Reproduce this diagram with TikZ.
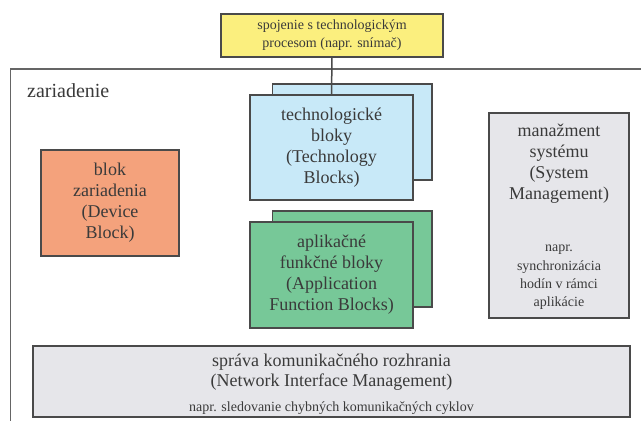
\documentclass[tikz,border=0pt]{standalone}
\usepackage{fontspec}
\setmainfont{Liberation Serif}
\newfontfamily\tnr{Liberation Serif}
\definecolor{boxline}{HTML}{4A4A4A}
\definecolor{txt}{HTML}{3A3A3A}
\definecolor{yel}{HTML}{FBEF7E}
\definecolor{blu}{HTML}{C8E9F8}
\definecolor{grn}{HTML}{77C898}
\definecolor{org}{HTML}{F4A27C}
\definecolor{gry}{HTML}{E6E6EA}
\tikzset{
  every node/.style={font=\tnr},
  blockbox/.style={draw=boxline, line width=1.5pt, rectangle, inner sep=0pt, align=center, text=txt},
  bigtext/.style={font=\tnr\fontsize{18}{21}\selectfont},
  smalltext/.style={font=\tnr\fontsize{14}{18.3}\selectfont, text=txt, align=center, inner sep=0pt},
  frameline/.style={draw=boxline!85, line width=1.3pt},
}
\begin{document}
\begin{tikzpicture}[x=1pt,y=1pt]
\useasboundingbox (0,0) rectangle (641,421);
% device frame (open to right and bottom)
\coordinate (frTR) at (641,352);
\coordinate (frTL) at (10.7,352);
\coordinate (frBL) at (10.7,0);
\draw[frameline] (frTR) -- (frTL) -- (frBL);
\node[anchor=base west, inner sep=0pt, text=txt, font=\tnr\fontsize{20}{24}\selectfont] (dev) at (27,323) {zariadenie};
% yellow
\node[blockbox, fill=yel, minimum width=222pt, minimum height=43pt, font=\tnr\fontsize{14}{18}\selectfont] (yel) at (332,385.5) {spojenie s technologickým\\procesom (napr. snímač)};
% blue stack
\node[blockbox, fill=blu, minimum width=159.3pt, minimum height=96pt] (tbback) at (352.35,289) {};
\node[blockbox, fill=blu, minimum width=163pt, minimum height=105pt, bigtext] (tb) at (331.5,273.5) {technologické\\bloky\\(Technology\\Blocks)};
% green stack
\node[blockbox, fill=grn, minimum width=159.3pt, minimum height=96pt] (afback) at (352.35,162) {};
\node[blockbox, fill=grn, minimum width=163pt, minimum height=106pt, bigtext] (af) at (331.5,146) {aplikačné\\funkčné bloky\\(Application\\Function Blocks)};
% connector
\draw[draw=boxline, line width=1.5pt] (yel.south) -- (tb.north);
% orange
\node[blockbox, fill=org, minimum width=138pt, minimum height=106pt, bigtext] (db) at (110,218) {blok\\zariadenia\\(Device\\Block)};
% gray system management
\node[blockbox, fill=gry, minimum width=140pt, minimum height=205pt] (sm) at (559,205.5) {};
\node[inner sep=0pt, align=center, text=txt, bigtext] (smt) at (559,257) {manažment\\systému\\(System\\Management)};
\node[smalltext] (sms) at (559,143.5) {napr.\\synchronizácia\\hodín v rámci\\aplikácie};
% network interface management
\node[blockbox, fill=gry, minimum width=597pt, minimum height=71pt] (nim) at (331.5,39.5) {};
\node[inner sep=0pt, align=center, text=txt, font=\tnr\fontsize{18}{20}\selectfont] (nimt) at (331.5,49) {správa komunikačného rozhrania\\(Network Interface Management)};
\node[smalltext] (nims) at (331.5,13) {napr. sledovanie chybných komunikačných cyklov};
\end{tikzpicture}
\end{document}
